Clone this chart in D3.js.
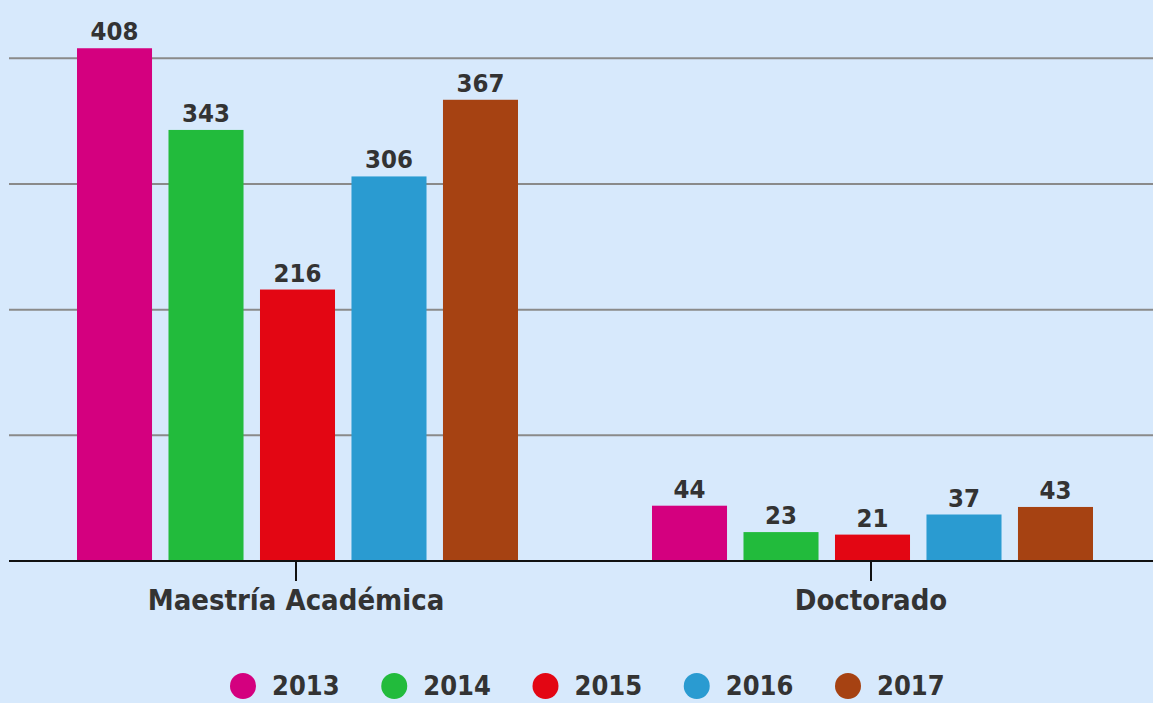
<!DOCTYPE html>
<html>
<head>
<meta charset="utf-8">
<script src="https://d3js.org/d3.v7.min.js"></script>
<style>
  html, body { margin: 0; padding: 0; background: #d7e9fc; }
  svg { display: block; }
  text { font-family: "DejaVu Sans Condensed", "DejaVu Sans", sans-serif; font-weight: bold; fill: #333; }
</style>
</head>
<body>
<script>
const programs = ["Maestría Académica", "Doctorado"];
const years = ["2013", "2014", "2015", "2016", "2017"];
const values2013 = [408, 44];
const values2014 = [343, 23];
const values2015 = [216, 21];
const values2016 = [306, 37];
const values2017 = [367, 43];
const gridTicks = [100, 200, 300, 400];
const colors = ["#d4007f", "#22bb3c", "#e30613", "#2a9bd1", "#a64212"];

const series = [values2013, values2014, values2015, values2016, values2017];
const rows = [];
programs.forEach((p, i) => {
  years.forEach((y, j) => rows.push({program: p, year: y, value: series[j][i]}));
});

const width = 1153, height = 703;
const svg = d3.select("body").append("svg")
  .attr("width", width)
  .attr("height", height);

const x0 = d3.scaleBand().domain(programs).range([11.5, 1161.5]).padding(0);
const x1 = d3.scaleBand().domain(years)
  .range([65.5, 506.5])
  .paddingInner(0.18).paddingOuter(0);
const y = d3.scaleLinear().domain([0, 400]).range([561, 58.3]);
const color = d3.scaleOrdinal().domain(years).range(colors);

// grid lines
svg.append("g").selectAll("line")
  .data(gridTicks)
  .enter().append("line")
    .attr("x1", 9).attr("x2", width)
    .attr("y1", d => y(d)).attr("y2", d => y(d))
    .attr("stroke", "#8a8a8a")
    .attr("stroke-width", 2);

// bars
let bars = svg.append("g").selectAll("rect")
  .data(rows)
  .enter().append("rect")
    .attr("x", d => x0(d.program) + x1(d.year))
    .attr("width", x1.bandwidth())
    .attr("y", d => y(d.value))
    .attr("height", d => y(0) - y(d.value))
    .attr("fill", d => color(d.year));

// value labels
svg.append("g").selectAll("text")
  .data(rows)
  .enter().append("text")
    .attr("x", d => x0(d.program) + x1(d.year) + x1.bandwidth() / 2)
    .attr("y", d => y(d.value) - 8)
    .attr("text-anchor", "middle")
    .attr("font-size", 25.5)
    .text(d => d.value);

// x axis
const xAxis = d3.axisBottom(x0).tickSize(20).tickSizeOuter(0).tickPadding(8);
svg.append("g")
  .attr("transform", `translate(0,${y(0)})`)
  .call(xAxis)
  .call(g => {
    g.select(".domain").attr("stroke", "#111").attr("stroke-width", 2).attr("d", `M9,0H${width}`);
    g.selectAll(".tick").attr("transform", d => `translate(${x0(d) + x0.bandwidth() / 2 - 3},0)`);
    g.selectAll(".tick line").attr("stroke", "#111").attr("stroke-width", 2);
    g.selectAll(".tick text").attr("font-size", 29).attr("fill", "#333")
      .attr("font-family", "DejaVu Sans Condensed, DejaVu Sans, sans-serif")
      .attr("font-weight", "bold");
  });

// legend
const legendX = d3.scalePoint().domain(years).range([243, 848]);
let legend = svg.append("g").attr("id", "legend");
legend.selectAll("circle")
  .data(years)
  .enter().append("circle")
    .attr("cx", d => legendX(d))
    .attr("cy", 686)
    .attr("r", 13)
    .attr("fill", d => color(d));
legend.selectAll("text")
  .data(years)
  .enter().append("text")
    .attr("x", d => legendX(d) + 29)
    .attr("y", 695)
    .attr("font-size", 27)
    .text(d => d);
</script>
</body>
</html>
